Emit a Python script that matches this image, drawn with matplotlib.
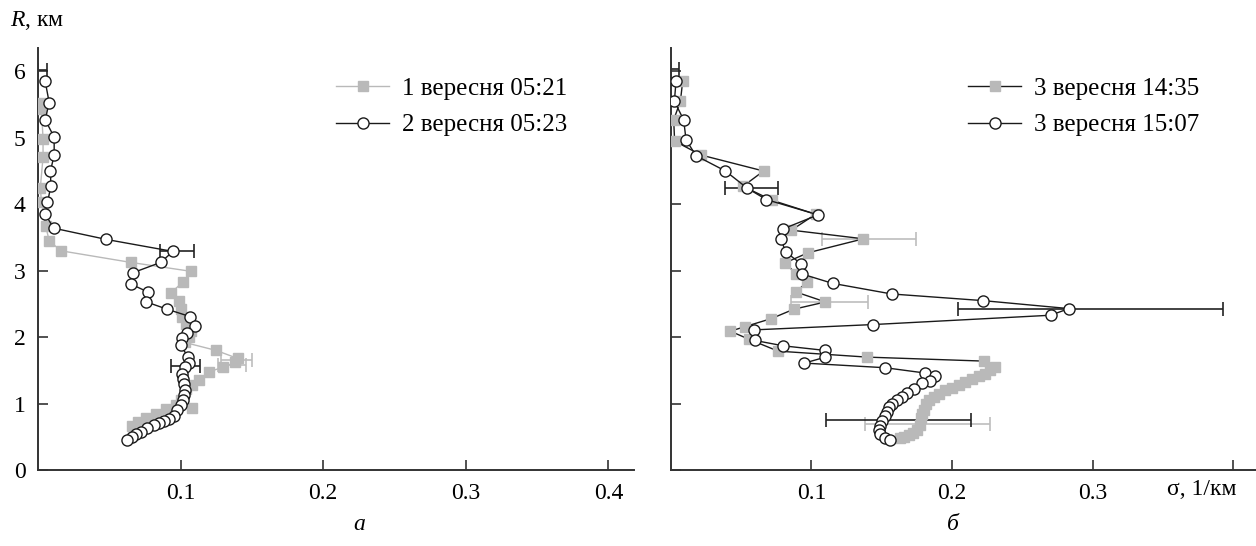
import numpy as np
import matplotlib.pyplot as plt

plt.rcParams['font.family'] = ['Liberation Serif', 'DejaVu Serif']
plt.rcParams['mathtext.fontset'] = 'custom'
plt.rcParams['mathtext.it'] = 'Liberation Serif:italic'
plt.rcParams['mathtext.rm'] = 'Liberation Serif'

# panel a: 1 вересня 05:21 (gray squares)
a1_x = [0.0024, 0.0024, 0.0035, 0.0035, 0.0016, 0.0024, 0.0054, 0.0078, 0.016, 0.065,
        0.1075, 0.1016, 0.0934, 0.0988, 0.100, 0.101, 0.104, 0.107, 0.106, 0.103,
        0.125, 0.140, 0.138, 0.130, 0.120, 0.113, 0.108, 0.104, 0.100, 0.108,
        0.097, 0.090, 0.083, 0.076, 0.070, 0.066]
a1_r = [5.53, 5.43, 4.98, 4.71, 4.25, 4.03, 3.67, 3.45, 3.30, 3.125,
        2.99, 2.83, 2.67, 2.55, 2.42, 2.30, 2.20, 2.10, 2.00, 1.92,
        1.80, 1.68, 1.62, 1.55, 1.48, 1.35, 1.28, 1.22, 1.05, 0.94,
        0.98, 0.92, 0.84, 0.78, 0.72, 0.66]

# panel a: 2 вересня 05:23 (open circles)
a2_x = [0.005, 0.0078, 0.005, 0.0113, 0.0113, 0.0087, 0.009, 0.0066, 0.005, 0.011,
        0.048, 0.0946, 0.086, 0.0666, 0.065, 0.077, 0.076, 0.0906, 0.1066, 0.110,
        0.1047, 0.101, 0.100, 0.1054, 0.106, 0.1028, 0.101, 0.102, 0.1025, 0.103,
        0.1025, 0.102, 0.100, 0.0976, 0.095, 0.092, 0.088, 0.085, 0.081, 0.0765,
        0.0725, 0.069, 0.066, 0.0624]
a2_r = [5.85, 5.53, 5.27, 5.01, 4.74, 4.50, 4.27, 4.03, 3.85, 3.64,
        3.47, 3.29, 3.125, 2.97, 2.80, 2.68, 2.53, 2.42, 2.31, 2.17,
        2.06, 1.99, 1.875, 1.70, 1.61, 1.55, 1.45, 1.37, 1.29, 1.21,
        1.13, 1.05, 0.98, 0.90, 0.82, 0.77, 0.74, 0.71, 0.68, 0.64,
        0.58, 0.54, 0.505, 0.45]

# panel б: 3 вересня 14:35 (gray squares)
b1_x = [0.0085, 0.0069, 0.0021, 0.0028, 0.0216, 0.066, 0.0514, 0.072, 0.103, 0.0858,
        0.137, 0.0976, 0.0815, 0.089, 0.097, 0.089, 0.110, 0.0874, 0.0716, 0.053,
        0.0424, 0.0555, 0.0763, 0.1396, 0.2225, 0.2308, 0.227, 0.2237, 0.219, 0.2142,
        0.2095, 0.2047, 0.200, 0.1953, 0.191, 0.187, 0.1834, 0.1815, 0.1798, 0.1786,
        0.178, 0.1774, 0.1751, 0.172, 0.1692, 0.166, 0.1632]
b1_r = [5.85, 5.55, 5.27, 4.95, 4.74, 4.50, 4.27, 4.06, 3.85, 3.61,
        3.48, 3.27, 3.12, 2.95, 2.83, 2.68, 2.53, 2.42, 2.28, 2.16,
        2.09, 1.97, 1.79, 1.70, 1.64, 1.556, 1.50, 1.447, 1.41, 1.372,
        1.32, 1.273, 1.235, 1.199, 1.15, 1.10, 1.05, 1.00, 0.90, 0.84,
        0.777, 0.678, 0.603, 0.56, 0.529, 0.50, 0.479]

# panel б: 3 вересня 15:07 (open circles)
b2_x = [0.0038, 0.0026, 0.0092, 0.0109, 0.018, 0.0389, 0.0545, 0.068, 0.1047, 0.080,
        0.0784, 0.0818, 0.0929, 0.0934, 0.115, 0.157, 0.222, 0.283, 0.270, 0.144,
        0.0595, 0.060, 0.080, 0.110, 0.110, 0.095, 0.1526, 0.181, 0.188, 0.1846,
        0.1787, 0.1727, 0.168, 0.1644, 0.1609, 0.1573, 0.155, 0.1538, 0.1526, 0.1502,
        0.149, 0.1478, 0.149, 0.1526, 0.156]
b2_r = [5.85, 5.55, 5.27, 4.97, 4.73, 4.50, 4.24, 4.07, 3.84, 3.63,
        3.47, 3.28, 3.10, 2.95, 2.81, 2.65, 2.55, 2.43, 2.33, 2.19,
        2.11, 1.95, 1.87, 1.80, 1.70, 1.61, 1.54, 1.46, 1.41, 1.347,
        1.307, 1.224, 1.16, 1.10, 1.05, 1.00, 0.95, 0.875, 0.81, 0.74,
        0.66, 0.60, 0.54, 0.49, 0.46]

# error bars: height, left end, right end
a1_err = [(1.66, 0.128, 0.150), (1.58, 0.126, 0.146)]
a2_err = [(6.02, 0.0, 0.0064), (3.29, 0.0854, 0.1094), (1.57, 0.0934, 0.1136)]
b1_err = [(3.48, 0.1076, 0.174), (2.53, 0.0855, 0.140), (0.69, 0.138, 0.227)]
b2_err = [(6.03, 0.0, 0.0062), (4.24, 0.0389, 0.076), (2.43, 0.2042, 0.3926), (0.76, 0.1107, 0.2135)]

sq_gray = '#b9b9b9'
err_gray = '#bdbdbd'
fs = 17

fig = plt.figure(figsize=(12.56, 5.46), dpi=100)
ax1 = fig.add_axes([0.0303, 0.139, 0.4745, 0.773])
ax2 = fig.add_axes([0.534, 0.139, 0.466, 0.773])


def draw_err(ax, bars, color):
    for r, lo, hi in bars:
        ax.errorbar([(lo + hi) / 2], [r], xerr=[(hi - lo) / 2], fmt='none',
                    ecolor=color, elinewidth=1.2, capsize=5, capthick=1.2, zorder=2)


draw_err(ax1, a1_err, err_gray)
draw_err(ax1, a2_err, '#222222')
ax1.plot(a1_x, a1_r, color=sq_gray, lw=1.0, marker='s', ms=7.5, mfc=sq_gray,
         mec=sq_gray, label='1 вересня 05:21', zorder=3)
ax1.plot(a2_x, a2_r, color='#1a1a1a', lw=1.0, marker='o', ms=8, mfc='white',
         mec='#1a1a1a', mew=1.0, label='2 вересня 05:23', zorder=4)

draw_err(ax2, b1_err, err_gray)
draw_err(ax2, b2_err, '#222222')
ax2.plot(b1_x, b1_r, color='#1a1a1a', lw=1.0, marker='s', ms=7.5, mfc=sq_gray,
         mec=sq_gray, label='3 вересня 14:35', zorder=3)
ax2.plot(b2_x, b2_r, color='#1a1a1a', lw=1.0, marker='o', ms=8, mfc='white',
         mec='#1a1a1a', mew=1.0, label='3 вересня 15:07', zorder=4)

for ax, lx in ((ax1, 0.50), (ax2, 0.508)):
    ax.spines['top'].set_visible(False)
    ax.spines['right'].set_visible(False)
    for s in ('left', 'bottom'):
        ax.spines[s].set_linewidth(1.4)
        ax.spines[s].set_color('#333333')
    ax.set_ylim(0, 6.35)
    ax.set_yticks([0, 1, 2, 3, 4, 5, 6])
    ax.tick_params(direction='in', length=7, width=1.2, color='#333333',
                   labelsize=fs, pad=9)
    ax.legend(loc='upper left', bbox_to_anchor=(lx, 0.93), frameon=False,
              fontsize=18, handlelength=2.12, labelspacing=0.55, handletextpad=0.5,
              borderaxespad=0, borderpad=0)

ax1.set_xlim(0, 0.418)
ax1.set_xticks([0.1, 0.2, 0.3, 0.4])
ax1.set_xticklabels(['0.1', '0.2', '0.3', '0.4'])
ax1.set_yticklabels(['0', '1', '2', '3', '4', '5', '6'])

ax2.set_xlim(0, 0.416)
ax2.set_xticks([0.1, 0.2, 0.3, 0.4])
ax2.set_xticklabels(['0.1', '0.2', '0.3', ''])
ax2.set_yticklabels([])

fig.text(0.008, 0.962, r'$\mathit{R}$, км', fontsize=fs, va='center', ha='left')
fig.text(0.957, 0.104, 'σ, 1/км', fontsize=fs, va='center', ha='center')
fig.text(0.286, 0.04, 'а', fontsize=fs, style='italic', ha='center', va='center')
fig.text(0.759, 0.04, 'б', fontsize=fs, style='italic', ha='center', va='center')

fig.savefig('out.png', dpi=100)
